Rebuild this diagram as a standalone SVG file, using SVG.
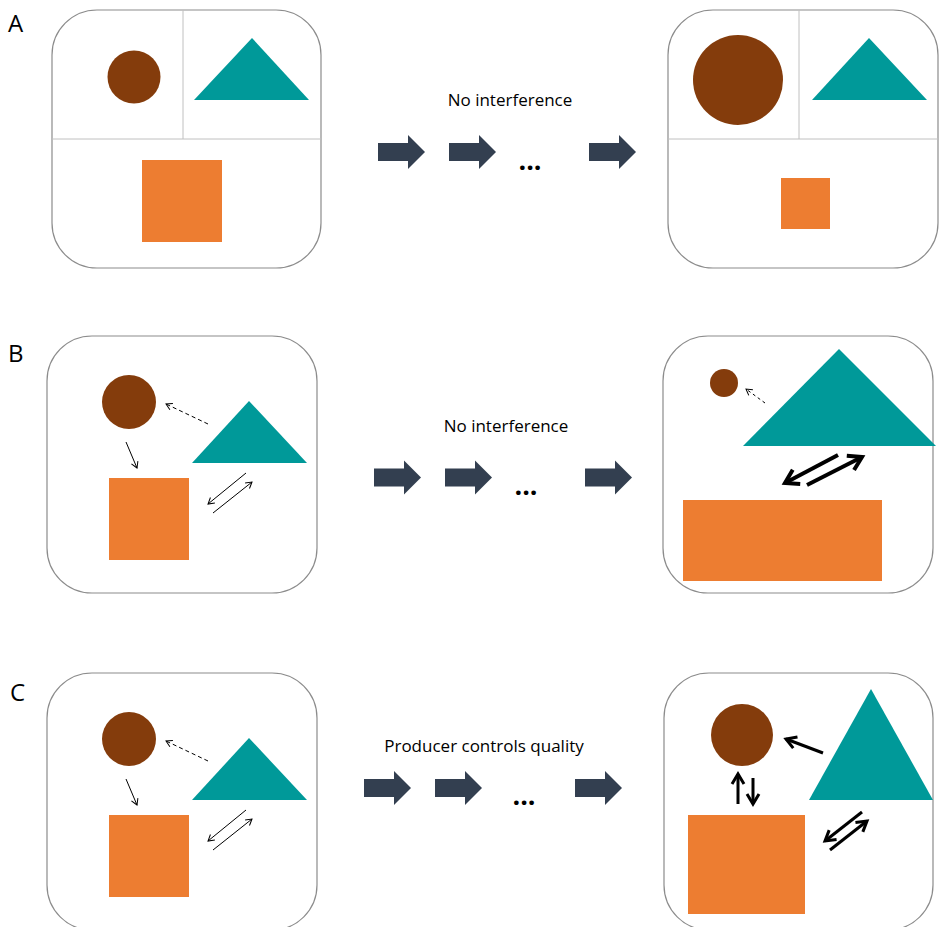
<svg xmlns="http://www.w3.org/2000/svg" width="940" height="927" viewBox="0 0 940 927">
  <style>
    .box { fill: #ffffff; stroke: #8c8c8c; stroke-width: 1.2; }
    .div { stroke: #c0c0c0; stroke-width: 1; }
    .prod { fill: #843C0C; }
    .pred { fill: #009999; }
    .cons { fill: #ED7D31; }
    .step { fill: #333F50; }
    .lbl { font-family: "Open Sans", "Noto Sans", "DejaVu Sans", sans-serif; font-size: 24px; fill: #000; }
    .cap { font-family: "Open Sans", "Noto Sans", "DejaVu Sans", sans-serif; font-size: 17px; fill: #000; text-anchor: middle; }
    .dots { font-family: "Open Sans", "Noto Sans", "DejaVu Sans", sans-serif; font-size: 27px; font-weight: bold; fill: #000; text-anchor: middle; }
    .thin { stroke: #000; stroke-width: 1; fill: none; marker-end: url(#hThin); }
    .dash { stroke: #000; stroke-width: 1; fill: none; stroke-dasharray: 4 3; marker-end: url(#hThin); }
    .thick { stroke: #000; stroke-width: 4; fill: none; marker-end: url(#hThick); }
    .mid { stroke: #000; stroke-width: 3; fill: none; marker-end: url(#hMid); }
  </style>
  <defs>
    <marker id="hThin" markerUnits="userSpaceOnUse" markerWidth="20" markerHeight="20" viewBox="-10 -10 20 20" refX="0" refY="0" orient="auto">
      <path d="M-6,-3.5 L0,0 L-6,3.5" fill="none" stroke="#000" stroke-width="1"/>
    </marker>
    <marker id="hThick" markerUnits="userSpaceOnUse" markerWidth="40" markerHeight="40" viewBox="-20 -20 40 40" refX="0" refY="0" orient="auto">
      <path d="M-13,-8 L0,0 L-13,8" fill="none" stroke="#000" stroke-width="4"/>
    </marker>
    <marker id="hMid" markerUnits="userSpaceOnUse" markerWidth="30" markerHeight="30" viewBox="-15 -15 30 30" refX="0" refY="0" orient="auto">
      <path d="M-10,-6 L0,0 L-10,6" fill="none" stroke="#000" stroke-width="3"/>
    </marker>
    <path id="stepArrow" d="M0,-9 H30 V-17 L47,0 L30,17 V9 H0 Z"/>
  </defs>

  <!-- Row labels -->
  <g id="labels">
    <text class="lbl" x="8" y="32">A</text>
    <text class="lbl" x="8" y="362">B</text>
    <text class="lbl" x="10" y="701">C</text>
  </g>

  <!-- Row A: separated niches, start -->
  <g id="a-start">
    <rect class="box" x="52" y="10" width="269" height="258" rx="45"/>
    <line class="div" x1="183" y1="10" x2="183" y2="139"/>
    <line class="div" x1="52" y1="139" x2="321" y2="139"/>
    <circle class="prod" cx="134" cy="77" r="26.5"/>
    <polygon class="pred" points="252,38 309,100 194,100"/>
    <rect class="cons" x="142" y="160" width="80" height="82"/>
  </g>

  <!-- Row A: separated niches, end -->
  <g id="a-end">
    <rect class="box" x="668" y="10" width="270" height="258" rx="45"/>
    <line class="div" x1="799" y1="10" x2="799" y2="139"/>
    <line class="div" x1="668" y1="139" x2="938" y2="139"/>
    <circle class="prod" cx="738" cy="80" r="45"/>
    <polygon class="pred" points="869,38 927,100 812,100"/>
    <rect class="cons" x="781" y="178" width="49" height="51"/>
  </g>

  <!-- Row A: steps -->
  <g id="a-steps">
    <text class="cap" x="510" y="106">No interference</text>
    <use href="#stepArrow" class="step" x="378" y="152"/>
    <use href="#stepArrow" class="step" x="449" y="152"/>
    <use href="#stepArrow" class="step" x="589" y="152"/>
    <text class="dots" x="530" y="170">...</text>
  </g>

  <!-- Row B: start -->
  <g id="b-start">
    <rect class="box" x="47" y="336" width="270" height="257" rx="45"/>
    <circle class="prod" cx="129" cy="402" r="27"/>
    <polygon class="pred" points="249,401 307,463 192,463"/>
    <rect class="cons" x="109" y="478" width="80" height="82"/>
  </g>

  <!-- Row B: end -->
  <g id="b-end">
    <rect class="box" x="663" y="336" width="270" height="257" rx="45"/>
    <circle class="prod" cx="724" cy="383" r="14"/>
    <polygon class="pred" points="839,349 936,446 743,446"/>
    <rect class="cons" x="683" y="500" width="199" height="81"/>
  </g>

  <!-- Row B: steps -->
  <g id="b-steps">
    <text class="cap" x="506" y="432">No interference</text>
    <use href="#stepArrow" class="step" x="374" y="477.5"/>
    <use href="#stepArrow" class="step" x="445" y="477.5"/>
    <use href="#stepArrow" class="step" x="585" y="477.5"/>
    <text class="dots" x="526" y="495">...</text>
  </g>

  <!-- Row C: start -->
  <g id="c-start">
    <rect class="box" x="47" y="673" width="270" height="257" rx="45"/>
    <circle class="prod" cx="129" cy="739" r="27"/>
    <polygon class="pred" points="249,738 307,800 192,800"/>
    <rect class="cons" x="109" y="815" width="80" height="82"/>
  </g>

  <!-- Row C: end -->
  <g id="c-end">
    <rect class="box" x="664" y="673" width="269" height="257" rx="45"/>
    <circle class="prod" cx="742" cy="735" r="31"/>
    <polygon class="pred" points="871,689 933,800 809,800"/>
    <rect class="cons" x="688" y="815" width="117" height="99"/>
  </g>

  <!-- Row C: steps -->
  <g id="c-steps">
    <text class="cap" x="484" y="752">Producer controls quality</text>
    <use href="#stepArrow" class="step" x="364" y="788"/>
    <use href="#stepArrow" class="step" x="435" y="788"/>
    <use href="#stepArrow" class="step" x="575" y="788"/>
    <text class="dots" x="524" y="805">...</text>
  </g>

  <!-- Interaction connectors -->
  <g id="connectors">
    <!-- B start -->
    <line class="dash" x1="208" y1="424" x2="166" y2="404"/>
    <line class="thin" x1="126" y1="442" x2="137" y2="468"/>
    <line class="thin" x1="246" y1="473" x2="208" y2="504"/>
    <line class="thin" x1="213" y1="513" x2="252" y2="482"/>
    <!-- B end -->
    <line class="dash" x1="765" y1="403" x2="746" y2="389" style="stroke-dasharray:3 3"/>
    <line class="thick" x1="838" y1="455" x2="785" y2="483"/>
    <line class="thick" x1="807" y1="485" x2="862" y2="457"/>
    <!-- C start -->
    <line class="dash" x1="208" y1="761" x2="166" y2="741"/>
    <line class="thin" x1="126" y1="779" x2="137" y2="805"/>
    <line class="thin" x1="246" y1="810" x2="208" y2="841"/>
    <line class="thin" x1="213" y1="850" x2="252" y2="819"/>
    <!-- C end -->
    <line class="mid" x1="823" y1="753" x2="786" y2="739"/>
    <line class="mid" x1="738" y1="804" x2="738" y2="774"/>
    <line class="mid" x1="753" y1="778" x2="753" y2="804"/>
    <line class="mid" x1="862" y1="812" x2="825" y2="841"/>
    <line class="mid" x1="830" y1="850" x2="867" y2="821"/>
  </g>
</svg>
